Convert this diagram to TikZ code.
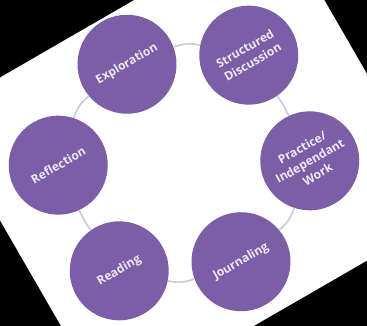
\documentclass[tikz,border=0pt]{standalone}
\usepackage{fontspec}
\setsansfont{Open Sans}
\usepackage{xcolor}

\definecolor{stagepurple}{RGB}{124,94,166}
\definecolor{ringgrey}{RGB}{204,202,218}
\definecolor{labelwhite}{RGB}{236,232,245}

\tikzset{
	stage/.style={circle, fill=stagepurple, minimum size=99pt, inner sep=0pt,
		align=center, text=labelwhite, font=\sffamily\bfseries\fontsize{12}{15.5}\selectfont},
	ring/.style={draw=ringgrey, line width=1.6pt},
}

\begin{document}
\begin{tikzpicture}[x=1pt,y=1pt]
				\fill[black] (0,0) rectangle (367,326);
				\useasboundingbox (0,0) rectangle (367,326);
				
				\begin{scope}[shift={(184,163)}, rotate=30, transform shape]
					\coordinate (M) at (0,0);
					\coordinate (E) at (0,114);
					\coordinate (S) at (110,61);
					\coordinate (P) at (110,-61);
					\coordinate (J) at (0,-114);
					\coordinate (R) at (-110,-61);
					\coordinate (F) at (-110,61);
					
					\fill[white] (-188,-176) rectangle (203,166);
					\clip (-188,-176) rectangle (203,166);
					
					\node[stage] (explore) at (E) {Exploration};
					\node[stage] (discuss) at (S) {Structured\\Discussion};
					\node[stage] (practice) at (P) {Practice/\\Independant\\Work};
					\node[stage] (journal) at (J) {Journaling};
					\node[stage] (reading) at (R) {Reading};
					\node[stage] (reflect) at (F) {Reflection};
					
					\draw[ring] (explore) to[bend left=16] (discuss);
					\draw[ring] (discuss) to[bend left=5] (practice);
					\draw[ring] (practice) to[bend left=16] (journal);
					\draw[ring] (journal) to[bend left=16] (reading);
					\draw[ring] (reading) to[bend left=5] (reflect);
					\draw[ring] (reflect) to[bend left=16] (explore);
				\end{scope}
			\end{tikzpicture}
\end{document}
